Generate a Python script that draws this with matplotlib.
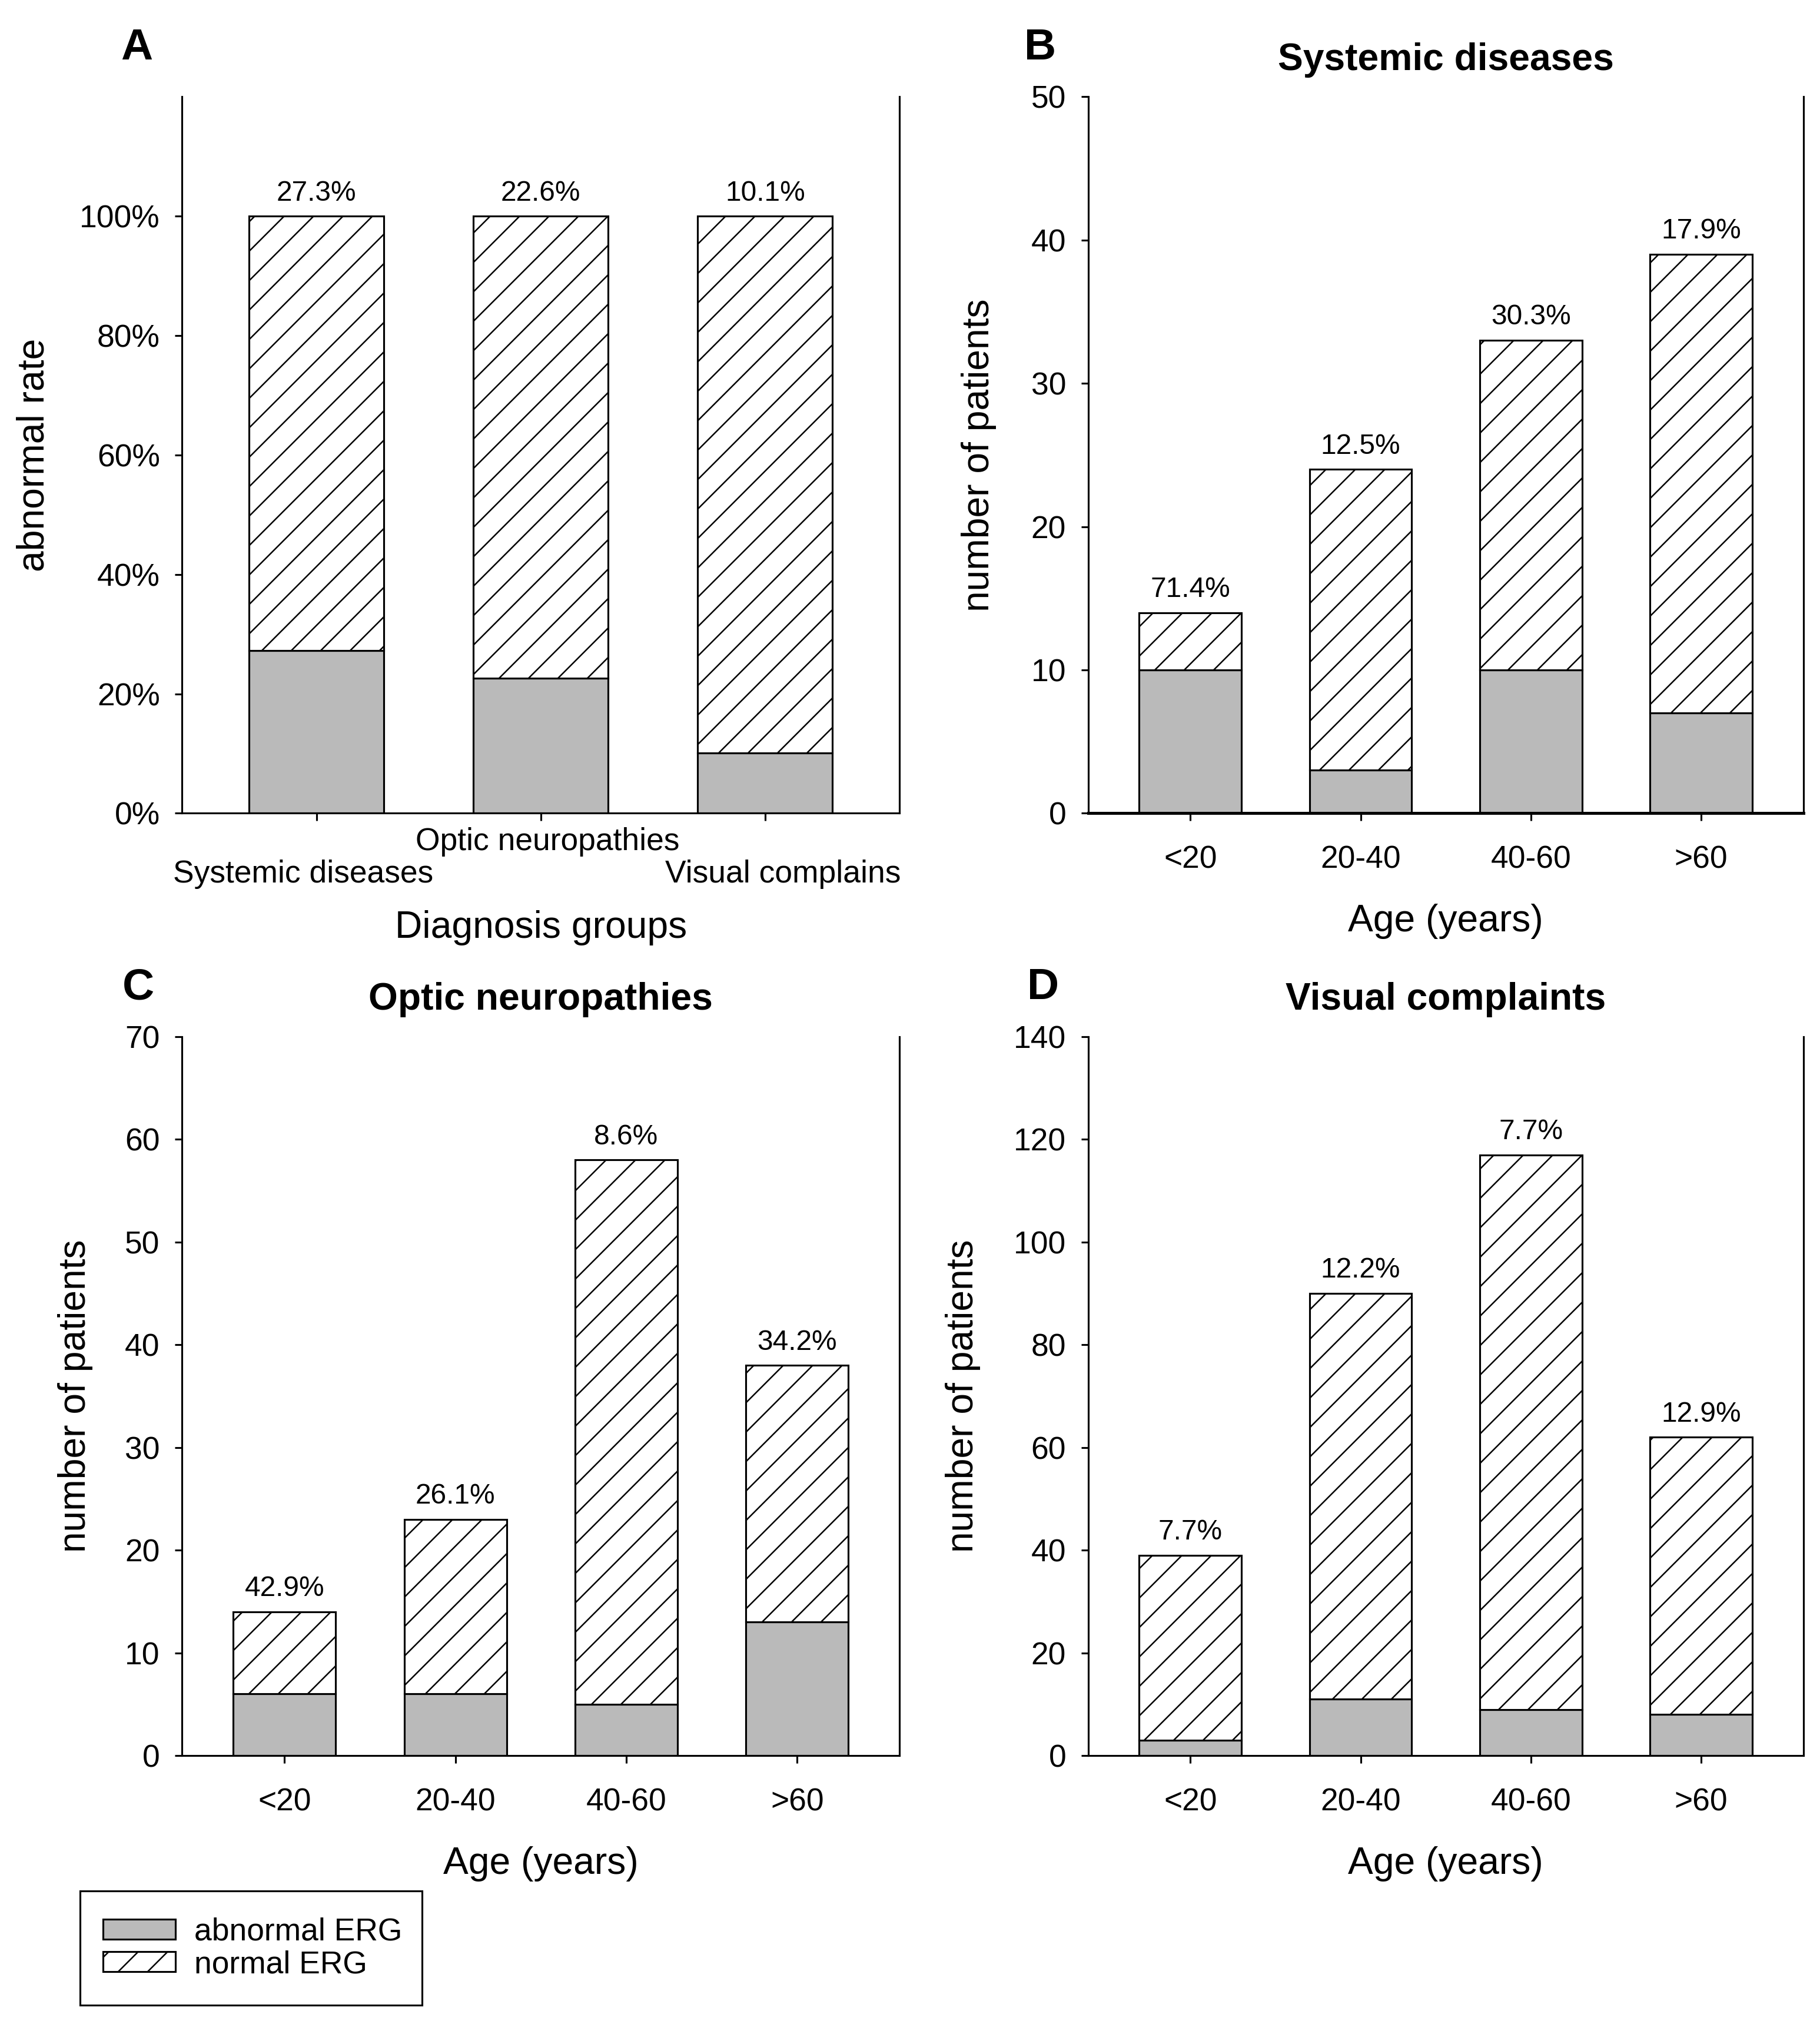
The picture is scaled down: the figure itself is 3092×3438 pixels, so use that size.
import matplotlib
matplotlib.use("Agg")
import matplotlib.pyplot as plt
from matplotlib.patches import Patch, Rectangle
from matplotlib.transforms import blended_transform_factory

plt.rcParams['font.family'] = ['Liberation Sans', 'DejaVu Sans']
plt.rcParams['hatch.linewidth'] = 0.6

### data
groups = ['Systemic diseases', 'Optic neuropathies', 'Visual complains']
rate_abnormal = [27.3, 22.6, 10.1]
rate_normal = [72.7, 77.4, 89.9]
rate_labels = ['27.3%', '22.6%', '10.1%']
rate_ticks = [0, 20, 40, 60, 80, 100]
rate_ticklabels = ['0%', '20%', '40%', '60%', '80%', '100%']

ages = ['<20', '20-40', '40-60', '>60']

sys_abnormal = [10, 3, 10, 7]
sys_normal = [4, 21, 23, 32]
sys_labels = ['71.4%', '12.5%', '30.3%', '17.9%']

opt_abnormal = [6, 6, 5, 13]
opt_normal = [8, 17, 53, 25]
opt_labels = ['42.9%', '26.1%', '8.6%', '34.2%']

vis_abnormal = [3, 11, 9, 8]
vis_normal = [36, 79, 108, 54]
vis_labels = ['7.7%', '12.2%', '7.7%', '12.9%']

grey = '#bababa'
lw = 0.75
tick_fs = 12.8
label_fs = 15.4

fig = plt.figure(figsize=(3092 / 300, 3438 / 300), dpi=300)


def stacked(ax, abnormal, normal, labels, ymax, yticks):
    x = list(range(len(abnormal)))
    ax.bar(x, abnormal, width=0.6, color=grey, edgecolor='black', linewidth=lw)
    tops = ax.bar(x, normal, bottom=abnormal, width=0.6, color='white',
                  edgecolor='black', linewidth=lw, hatch='//')
    for rect, lab in zip(tops, labels):
        ax.annotate(lab, (rect.get_x() + rect.get_width() / 2, rect.get_y() + rect.get_height()),
                    xytext=(0, 4), textcoords='offset points', ha='center', va='bottom',
                    fontsize=11.5)
    ax.set_xlim(-0.6, len(abnormal) - 0.4)
    ax.set_ylim(0, ymax)
    ax.set_yticks(yticks)
    ax.spines['top'].set_visible(False)
    for s in ax.spines.values():
        s.set_linewidth(lw)
    ax.tick_params(axis='both', direction='out', length=3, width=lw, labelsize=tick_fs)
    ax.tick_params(axis='y', pad=6)
    return x


# A - abnormal rate per diagnosis group
axA = fig.add_axes([0.100, 0.5982, 0.3943, 0.3540])
xA = stacked(axA, rate_abnormal, rate_normal, rate_labels, 120, rate_ticks)
axA.set_yticklabels(rate_ticklabels)
axA.set_xticks(xA, labels=['', '', ''])
axA.xaxis.get_major_ticks()[0].tick1line.set_color('0.75')
# staggered group names below the axis
trans = blended_transform_factory(axA.transData, axA.transAxes)
name_dx = [-0.06, 0.03, 0.08]
name_y = [-0.085, -0.040, -0.085]
for xi, name, dx, yy in zip(xA, groups, name_dx, name_y):
    axA.text(xi + dx, yy, name, transform=trans, ha='center', va='center', fontsize=tick_fs)
axA.set_xlabel('Diagnosis groups', fontsize=label_fs)
axA.set_ylabel('abnormal rate', fontsize=label_fs)
axA.xaxis.set_label_coords(0.5, -0.135)
axA.yaxis.set_label_coords(-0.182, 0.5)

# B, C, D - counts per age group
panels = [
    ([0.5979, 0.5982, 0.3929, 0.3540], sys_abnormal, sys_normal, sys_labels, 50, range(0, 51, 10), 'Systemic diseases', -0.128),
    ([0.100, 0.1326, 0.3943, 0.3552], opt_abnormal, opt_normal, opt_labels, 70, range(0, 71, 10), 'Optic neuropathies', -0.124),
    ([0.5979, 0.1326, 0.3929, 0.3552], vis_abnormal, vis_normal, vis_labels, 140, range(0, 141, 20), 'Visual complaints', -0.150),
]
axes = []
for rect, ab, no, labs, ymax, yt, title, ylx in panels:
    ax = fig.add_axes(rect)
    x = stacked(ax, ab, no, labs, ymax, list(yt))
    ax.set_xticks(x)
    ax.set_xticklabels(ages)
    ax.tick_params(axis='x', pad=10)
    ax.set_title(title, fontsize=label_fs, fontweight='bold', pad=11)
    ax.set_xlabel('Age (years)', fontsize=label_fs)
    ax.set_ylabel('number of patients', fontsize=label_fs)
    ax.xaxis.set_label_coords(0.5, -0.126)
    ax.yaxis.set_label_coords(ylx, 0.5)
    axes.append(ax)
axes[0].spines['bottom'].set_linewidth(1.2)

# panel letters
for lx, ly, letter in [(0.0752, 0.9764, 'A'), (0.5716, 0.9764, 'B'),
                       (0.0759, 0.512, 'C'), (0.5730, 0.512, 'D')]:
    fig.text(lx, ly, letter, fontsize=18, fontweight='bold', ha='center', va='center')

# legend with its own box
handles = [Patch(facecolor=grey, edgecolor='black', linewidth=lw, label='abnormal ERG'),
           Patch(facecolor='white', edgecolor='black', linewidth=lw, hatch='//', label='normal ERG')]
fig.legend(handles=handles, loc='center left', bbox_to_anchor=(0.0567, 0.0374),
           frameon=False, fontsize=tick_fs, borderpad=0, borderaxespad=0,
           handlelength=2.3, handleheight=0.6, handletextpad=0.6, labelspacing=0.1)
fig.add_artist(Rectangle((0.044, 0.0094), 0.188, 0.0562, transform=fig.transFigure,
                         fill=False, edgecolor='black', linewidth=lw))

fig.savefig('out.png', dpi=300)
